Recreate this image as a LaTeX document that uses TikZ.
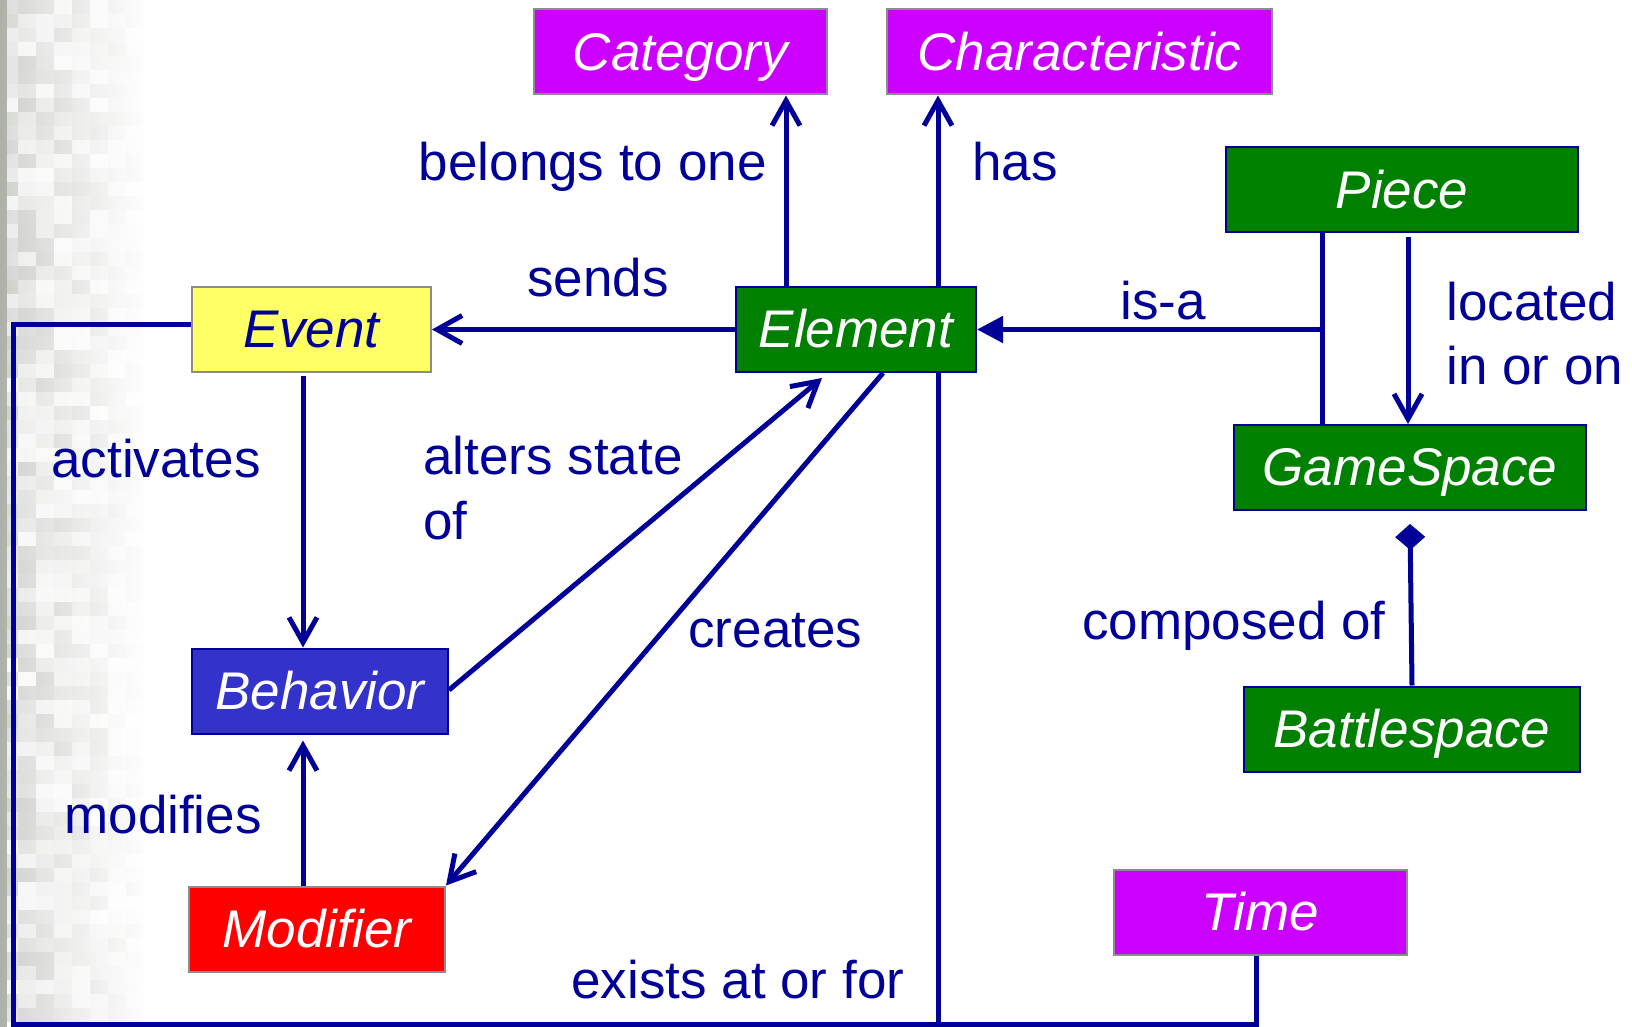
\documentclass[tikz,border=0pt]{standalone}
\usepackage{fontspec}
\setmainfont{Liberation Sans}
\usetikzlibrary{arrows.meta,calc,fadings}
\definecolor{navy}{HTML}{000099}
\definecolor{leafgreen}{HTML}{008000}
\definecolor{catviolet}{HTML}{CC00FF}
\definecolor{lemon}{HTML}{FFFF66}
\definecolor{royal}{HTML}{3333CC}
\definecolor{boxred}{HTML}{FF0000}
\definecolor{boxgray}{HTML}{8C8C8C}
\definecolor{camo}{HTML}{5E6355}
\newcommand\labelsize{\fontsize{26.5pt}{31.5pt}\selectfont}
\begin{document}
\begin{tikzpicture}[x=0.5pt,y=-0.5pt,
  box/.style={draw, line width=1pt, inner sep=0pt, minimum height=42.5pt,
    text height=24pt, text depth=5.6pt, font=\labelsize\itshape, text=white},
  greenbox/.style={box, fill=leafgreen, draw=navy},
  greybox/.style={box, draw=boxgray},
  lbl/.style={inner sep=0pt, font=\labelsize, text=navy},
  link/.style={draw=navy, line width=2.5pt},
  open/.style={link, -{Straight Barb[length=12.5pt,width=14pt]}},
]
\useasboundingbox (0,0) rectangle (1632,1027);
\fill[white] (0,0) rectangle (1632,1027);

% camouflage strip on the left, fading into the white page
\pgfmathsetseed{42}
\foreach \cx in {0,18,...,126}{
  \foreach \cy in {0,14,...,1020}{
    \pgfmathsetmacro{\g}{int(70+random(0,26))}
    \fill[white!\g!camo] (\cx,\cy) rectangle ++(18,14);
  }
}
\fill[camo!50!white] (0,0) rectangle (7,1027);
\fill[white, path fading=west] (0,0) rectangle (150,1027);

% classes
\node[greybox, fill=catviolet, minimum width=146.5pt] (cat) at (680.5,52) {Category};
\node[greybox, fill=catviolet, minimum width=192.5pt] (chr) at (1079.5,52) {Characteristic};
\node[greenbox, minimum width=176pt] (pc) at (1402,190) {Piece};
\node[greybox, fill=lemon, text=navy, minimum width=119.5pt] (ev) at (311.5,329) {Event};
\node[greenbox, minimum width=120pt] (el) at (856,329.5) {Element};
\node[greenbox, minimum width=176pt] (gs) at (1410,467.5) {GameSpace};
\node[box, fill=royal, draw=navy, minimum width=128pt] (bh) at (320,691) {Behavior};
\node[greenbox, minimum width=168pt] (bs) at (1412,729) {Battlespace};
\node[greybox, fill=boxred, minimum width=128pt] (md) at (317,929) {Modifier};
\node[greybox, fill=catviolet, minimum width=146.5pt] (tm) at (1260.5,912) {Time};

% x positions of the vertical connectors
\coordinate (xcat) at (786,0);
\coordinate (xhas) at (938,0);
\coordinate (xisa) at (1322,0);
\coordinate (xloc) at (1408,0);
\coordinate (xact) at (303,0);
\coordinate (xl) at (13,0);
\coordinate (ybot) at (0,1024.5);

% associations
\draw[open] (xcat |- el.north) -- (xcat |- cat.south);
\draw[open] (xhas |- el.north) -- (xhas |- chr.south);
\draw[open] (el.west) -- (el.west -| ev.east);
\draw[link] (xisa |- pc.south) -- (xisa |- gs.north);
\draw[link, -{Triangle[length=13pt,width=13pt]}] (xisa |- el.east) -- (el.east);
\draw[open, shorten <=2pt] (xloc |- pc.south) -- (xloc |- gs.north);
\draw[open, shorten <=1.5pt] (xact |- ev.south) -- (xact |- bh.north);
\draw[open] (xact |- md.north) -- ($(xact |- bh.south)+(0,6)$);
\draw[open] ($(bh.east)+(0,-1)$) -- ($(el.south)+(-34,5)$);
\draw[open] ($(el.south)+(27,0)$) -- (md.north east);
\draw[link, {Diamond[length=13pt,width=15pt]}-] ($(gs.south)+(0,13)$) -- (bs.north);
\draw[link] ($(ev.west)+(0,-5)$) -| (xl |- ybot) -| ($(tm.south)+(-4.5,0)$);
\draw[link] (xhas |- el.south) -- (xhas |- ybot);

% association names
\node[lbl, anchor=base east] (l1) at (767,181) {belongs to one};
\node[lbl, anchor=base west] (l2) at (972,181) {has};
\node[lbl, anchor=base] (l3) at (598,296) {sends};
\node[lbl, anchor=base] (l4) at (1163,319) {is-a};
\node[lbl, anchor=base west] (l5a) at (1446,321) {located};
\node[lbl, anchor=base west] (l5b) at (1446,384) {in or on};
\node[lbl, anchor=base] (l6) at (156,477) {activates};
\node[lbl, anchor=base west] (l7a) at (423,474) {alters state};
\node[lbl, anchor=base west] (l7b) at (423,539) {of};
\node[lbl, anchor=base west] (l8) at (688,647) {creates};
\node[lbl, anchor=base east] (l9) at (1386,639) {composed of};
\node[lbl, anchor=base west] (l10) at (64,833) {modifies};
\node[lbl, anchor=base west] (l11) at (571,998) {exists at or for};
\end{tikzpicture}
\end{document}
